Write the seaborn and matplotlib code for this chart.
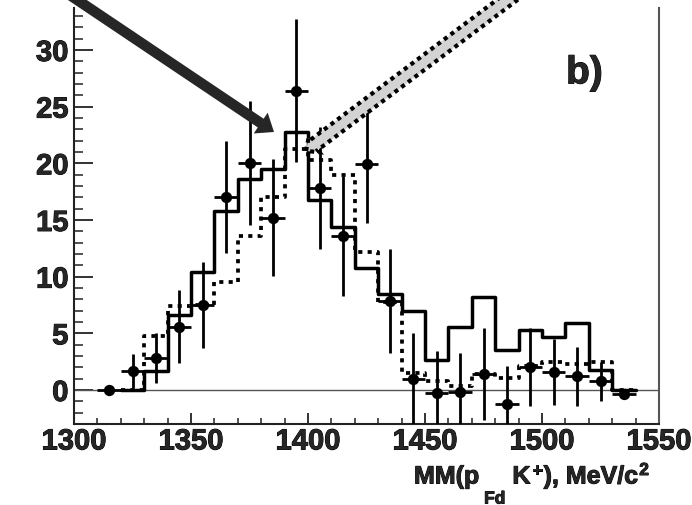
import numpy as np
import pandas as pd
import matplotlib
matplotlib.use("Agg")
import matplotlib.pyplot as plt
import matplotlib.patheffects as pe
from matplotlib.patches import Polygon
from matplotlib.ticker import MultipleLocator
import seaborn as sns

# ---- data -------------------------------------------------------------
bin_lo, bin_hi, bin_w = 1320, 1540, 10
bin_centers = np.arange(bin_lo + bin_w / 2, bin_hi, bin_w)

# simulated spectrum (solid) and alternative hypothesis (dotted)
solid_counts = [0.0, 1.65, 6.65, 10.45, 15.75, 18.6, 19.5, 22.75, 16.8, 14.35,
                10.75, 8.5, 6.95, 2.65, 5.6, 8.17, 3.55, 5.32, 4.67, 5.9, 1.8, 0.0]
dotted_counts = [0.0, 4.73, 7.37, 7.5, 9.5, 13.55, 17.0, 21.25, 20.3, 19.0,
                 12.17, 7.8, 1.5, 0.8, 0.35, 1.4, 1.06, 2.15, 2.5, 2.25, 2.5, 0.0]

# measured points with statistical errors
data_mass = np.arange(1315, 1536, 10)
data_counts = [0.0, 1.64, 2.79, 5.6, 7.52, 17.05, 20.05, 15.2, 26.4, 17.8,
               13.55, 19.96, 7.87, 0.97, -0.3, -0.2, 1.42, -1.21, 2.02, 1.57,
               1.2, 0.76, -0.33]
data_errors = [0.0, 1.5, 2.2, 3.2, 3.8, 4.95, 5.45, 5.15, 6.3, 5.4,
               5.3, 5.2, 4.6, 4.1, 3.7, 3.5, 4.05, 3.3, 3.45, 2.9,
               2.6, 1.7, 0.4]
bin_half_width = 5

x_ticks = [1300, 1350, 1400, 1450, 1500, 1550]
y_ticks = [0, 5, 10, 15, 20, 25, 30]
panel_label = "b)"

# ---- style ------------------------------------------------------------
sns.set_style("ticks")
plt.rcParams["font.family"] = ["Liberation Sans", "DejaVu Sans"]
plt.rcParams["font.weight"] = "bold"
heavy = [pe.withStroke(linewidth=0.7, foreground="black")]

W, H = 692, 505
fig = plt.figure(figsize=(W / 100, H / 100), dpi=100)
ax = fig.add_axes([74 / W, (H - 424) / H, (659 - 74) / W, (424 - 8) / H])

ax.axhline(0, color="#555555", lw=1.0, zorder=1)

hist_df = pd.DataFrame({"mass": bin_centers, "solid": solid_counts,
                        "dotted": dotted_counts})
sns.histplot(data=hist_df, x="mass", weights="dotted", binwidth=bin_w,
             binrange=(bin_lo, bin_hi), element="step", fill=False,
             color="black", linewidth=2.7, linestyle=(0, (1.1, 1.4)),
             ax=ax, zorder=2)
sns.histplot(data=hist_df, x="mass", weights="solid", binwidth=bin_w,
             binrange=(bin_lo, bin_hi), element="step", fill=False,
             color="black", linewidth=2.5, ax=ax, zorder=3)

ax.errorbar(data_mass, data_counts, yerr=data_errors, xerr=bin_half_width,
            fmt="none", ecolor="black", elinewidth=2.0, capsize=0, zorder=4)
sns.scatterplot(x=data_mass, y=data_counts, s=66, color="black",
                edgecolor="black", linewidth=0, ax=ax, zorder=5)

# ---- axes -------------------------------------------------------------
ax.set_xlim(1300, 1550)
ax.set_ylim(-3, 33.7)
ax.set_xlabel("")
ax.set_ylabel("")
ax.set_xticks(x_ticks)
ax.set_yticks(y_ticks)
ax.xaxis.set_minor_locator(MultipleLocator(10))
ax.yaxis.set_minor_locator(MultipleLocator(1))
ax.tick_params(axis="y", which="major", direction="in", length=13.5,
               width=1.3, pad=4.0, labelsize=21, color="#222222")
ax.tick_params(axis="y", which="minor", direction="in", length=6.7,
               width=1.1, color="#222222")
ax.tick_params(axis="x", which="major", direction="in", length=8,
               width=1.3, pad=2.5, labelsize=21, color="#222222")
ax.tick_params(axis="x", which="minor", direction="in", length=4.2,
               width=1.1, color="#222222")
for lab in ax.get_xticklabels() + ax.get_yticklabels():
    lab.set_path_effects(heavy)
ax.spines["top"].set_visible(False)
for side in ("left", "bottom"):
    ax.spines[side].set_color("#222222")
    ax.spines[side].set_linewidth(1.5)
ax.spines["right"].set_color("#555555")
ax.spines["right"].set_linewidth(1.5)

ax.text(1510.3, 27.05, panel_label, fontsize=28, fontweight="bold",
        ha="left", va="baseline", path_effects=heavy)


# ---- pointer arrows (figure pixel coordinates, y downward) ------------
def to_fig(pts):
    return [(px / W, 1 - py / H) for px, py in pts]


def arrow_outline(tail, tip, shaft_w, head_w, head_l):
    tail = np.asarray(tail, float)
    tip = np.asarray(tip, float)
    d = tip - tail
    d /= np.hypot(*d)
    n = np.array([-d[1], d[0]])
    base = tip - head_l * d
    pts = [tail + n * shaft_w / 2, base + n * shaft_w / 2, base + n * head_w / 2,
           tip, base - n * head_w / 2, base - n * shaft_w / 2,
           tail - n * shaft_w / 2]
    return to_fig(pts)


dark = Polygon(arrow_outline((52, -17), (274, 132), 10.5, 25, 16),
               closed=True, transform=fig.transFigure, facecolor="#262626",
               edgecolor="none", zorder=10, clip_on=False)
fig.patches.append(dark)

light = Polygon(arrow_outline((531, -18), (306, 151), 12.5, 18, 10),
                closed=True, transform=fig.transFigure, facecolor="#d3d3d3",
                edgecolor="black", linewidth=3.0, linestyle=(0, (1.0, 1.0)),
                zorder=10, clip_on=False)
fig.patches.append(light)

# ---- axis title built from pieces along one baseline (deep subscript) --
renderer = fig.canvas.get_renderer()
# (text, font size, rise above baseline px, gap after px)
pieces = [("MM(p", 18, 0, 5), ("Fd", 12.5, -20, 7), ("K", 18, 0, 2),
          ("+", 12.5, 8, 1), ("), MeV/c", 18, 0, 1), ("2", 12.5, 8.5, 0)]
x_px, base_px = 414.0, 483.5
for txt, size, rise, gap in pieces:
    t = fig.text(x_px / W, 1 - (base_px - rise) / H, txt, fontsize=size,
                 fontweight="bold", ha="left", va="baseline",
                 path_effects=heavy)
    x_px += t.get_window_extent(renderer=renderer).width + gap

fig.savefig("out.png", dpi=100)
